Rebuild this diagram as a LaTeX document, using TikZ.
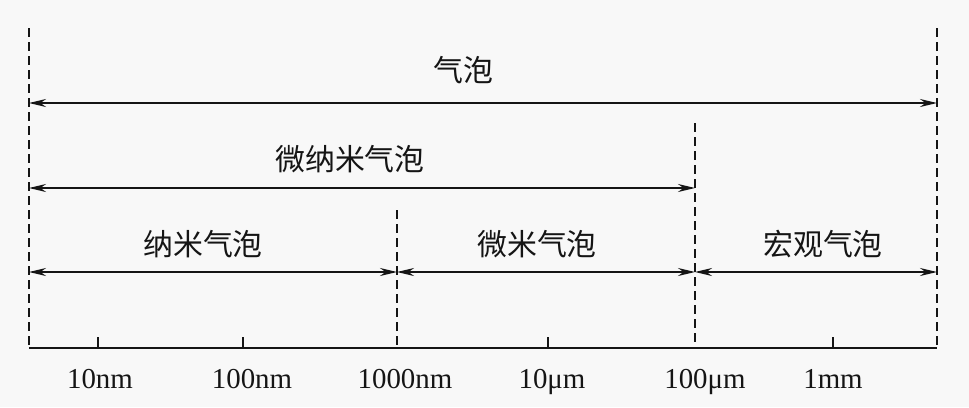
\documentclass[tikz,border=0pt]{standalone}
\usepackage{fontspec}
\setmainfont{Liberation Serif}
\newfontfamily\cjk{Noto Sans CJK SC}
\usetikzlibrary{arrows.meta}
\definecolor{bgc}{HTML}{F8F8F8}
\definecolor{ink}{HTML}{151515}
\begin{document}
\begin{tikzpicture}[x=1bp,y=-1bp,
  bound/.style={draw=ink,line width=1.8bp,dash pattern=on 9bp off 5bp},
  axisline/.style={draw=ink,line width=2bp},
  span/.style={draw=ink,line width=2bp,{Stealth[length=17bp,width=8bp]}-{Stealth[length=17bp,width=8bp]}},
  cn/.style={font=\cjk\fontsize{30}{36}\selectfont,text=ink,inner sep=0pt},
  num/.style={font=\fontsize{29}{34}\selectfont,text=ink,inner sep=0pt,anchor=base}]
\fill[bgc] (0,0) rectangle (969,407);
\useasboundingbox (0,0) rectangle (969,407);
% boundary coordinates
\coordinate (L0) at (29,28);   \coordinate (L1) at (29,348);
\coordinate (R0) at (937,28);  \coordinate (R1) at (937,348);
\coordinate (M0) at (695,123); \coordinate (M1) at (695,348);
\coordinate (N0) at (397,210); \coordinate (N1) at (397,348);
\draw[bound] (L0) -- (L1);
\draw[bound] (R0) -- (R1);
\draw[bound] (M0) -- (M1);
\draw[bound] (N0) -- (N1);
% axis
\draw[axisline] (L1) -- (R1);
\foreach \x/\n in {98/t1,243/t2,548/t4,833/t6}{
  \coordinate (\n a) at (\x,337); \coordinate (\n b) at (\x,348);
  \draw[axisline] (\n a) -- (\n b);
}
% arrows
\coordinate (a1l) at (29,103);  \coordinate (a1r) at (937,103);
\coordinate (a2l) at (29,188);  \coordinate (a2r) at (695,188);
\coordinate (a3l) at (29,272);  \coordinate (a3m) at (397,272);
\coordinate (a3n) at (695,272); \coordinate (a3r) at (937,272);
\draw[span] (a1l) -- (a1r);
\draw[span] (a2l) -- (a2r);
\draw[span] (a3l) -- (a3m);
\draw[span] (a3m) -- (a3n);
\draw[span] (a3n) -- (a3r);
% labels
\node[cn] (qp) at (463,70) {气泡};
\node[cn] (wnm) at (350,159) {微纳米气泡};
\node[cn] (nm) at (203,244) {纳米气泡};
\node[cn] (wm) at (537,244) {微米气泡};
\node[cn] (hg) at (823,244) {宏观气泡};
\node[num] (l1) at (100,388) {10nm};
\node[num] (l2) at (252,388) {100nm};
\node[num] (l3) at (405,388) {1000nm};
\node[num] (l4) at (552,388) {10μm};
\node[num] (l5) at (705,388) {100μm};
\node[num] (l6) at (833,388) {1mm};
\end{tikzpicture}
\end{document}
